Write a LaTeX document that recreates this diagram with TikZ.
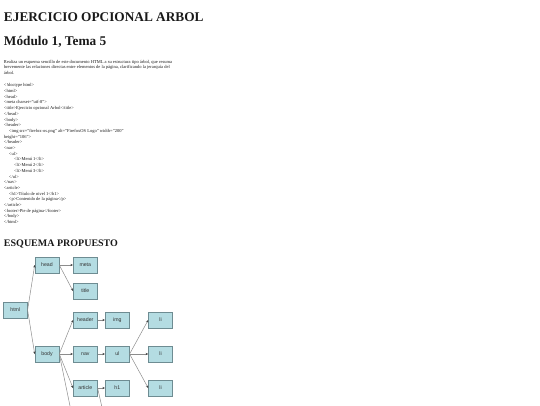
\documentclass[tikz,border=0pt]{standalone}
\usepackage{fontspec}
\setmainfont{Liberation Serif}
\newfontfamily\arialf{Liberation Sans}
\usetikzlibrary{arrows.meta}
\definecolor{boxfill}{HTML}{B4DCE2}
\definecolor{boxdraw}{HTML}{6E8C92}
\definecolor{linkc}{HTML}{8C8C8C}
\definecolor{tipc}{HTML}{404040}
\begin{document}
\begin{tikzpicture}[x=1pt,y=-1pt,
 treebox/.style={draw=boxdraw,fill=boxfill,line width=0.6pt,minimum width=24pt,minimum height=16pt,inner sep=0pt,font=\arialf\fontsize{5.2}{6}\selectfont,text=black!80},
 link/.style={draw=linkc,line width=0.5pt,-{Stealth[length=2.6pt,width=2.2pt,color=tipc]}},
 txt/.style={anchor=base west,inner sep=0pt,outer sep=0pt,text=black!90},
 small/.style={txt,align=left,font=\fontsize{4.5}{5.7}\selectfont},
]
\useasboundingbox (0,0) rectangle (540,405);
\clip (0,0) rectangle (540,405);
\node[txt,font=\bfseries\fontsize{13.3}{15}\selectfont] (t1) at (4,21.2) {EJERCICIO OPCIONAL ARBOL};
\node[txt,font=\bfseries\fontsize{13.3}{15}\selectfont] (t2) at (4,45.6) {Módulo 1, Tema 5};
% base anchor of a multi-line node = baseline of its last line
\node[small] (par) at (4,74.6) {Realiza un esquema sencillo de este documento HTML a su estructura tipo árbol, que resuma\\
brevemente las relaciones directas entre elementos de la página, clarificando la jerarquía del\\
árbol.};
\node[small] (code) at (4,223.6) {<!doctype html>\\
<html>\\
<head>\\
<meta charset="utf-8">\\
<title>Ejercicio opcional Arbol</title>\\
</head>\\
<body>\\
<header>\\
\hspace*{5pt}<img src="firefox-os.png" alt="FirefoxOS Logo" width="200"\\
height="106">\\
</header>\\
<nav>\\
\hspace*{5pt}<ul>\\
\hspace*{10pt}<li>Menú 1</li>\\
\hspace*{10pt}<li>Menú 2</li>\\
\hspace*{10pt}<li>Menú 3</li>\\
\hspace*{5pt}</ul>\\
</nav>\\
<article>\\
\hspace*{5pt}<h1>Título de nivel 1</h1>\\
\hspace*{5pt}<p>Contenido de la página</p>\\
</article>\\
<footer>Pie de página</footer>\\
</body>\\
</html>};
\node[txt,font=\bfseries\fontsize{10}{12}\selectfont] (t3) at (4,246.7) {ESQUEMA PROPUESTO};
% tree
\node[treebox] (html) at (15.3,310) {html};
\node[treebox] (head) at (47,265) {head};
\node[treebox] (meta) at (85.3,265) {meta};
\node[treebox] (title) at (85.3,291) {title};
\node[treebox] (body) at (47,354) {body};
\node[treebox] (header) at (85.3,320) {header};
\node[treebox] (nav) at (85.3,354) {nav};
\node[treebox] (article) at (85.3,388) {article};
\node[treebox] (img) at (117.3,320) {img};
\node[treebox] (ul) at (117.3,354) {ul};
\node[treebox] (h1) at (117.3,388) {h1};
\node[treebox] (li1) at (160.5,320) {li};
\node[treebox] (li2) at (160.5,354) {li};
\node[treebox] (li3) at (160.5,388) {li};
\coordinate (footerw) at (73.3,422);
\coordinate (pw) at (105.3,422);
\draw[link] (html.east) -- (head.west);
\draw[link] (html.east) -- (body.west);
\draw[link] (head.east) -- (meta.west);
\draw[link] (head.east) -- (title.west);
\draw[link] (body.east) -- (header.west);
\draw[link] (body.east) -- (nav.west);
\draw[link] (body.east) -- (article.west);
\draw[link] (body.east) -- (footerw);
\draw[link] (header.east) -- (img.west);
\draw[link] (nav.east) -- (ul.west);
\draw[link] (article.east) -- (h1.west);
\draw[link] (article.east) -- (pw);
\draw[link] (ul.east) -- (li1.west);
\draw[link] (ul.east) -- (li2.west);
\draw[link] (ul.east) -- (li3.west);
\end{tikzpicture}
\end{document}
